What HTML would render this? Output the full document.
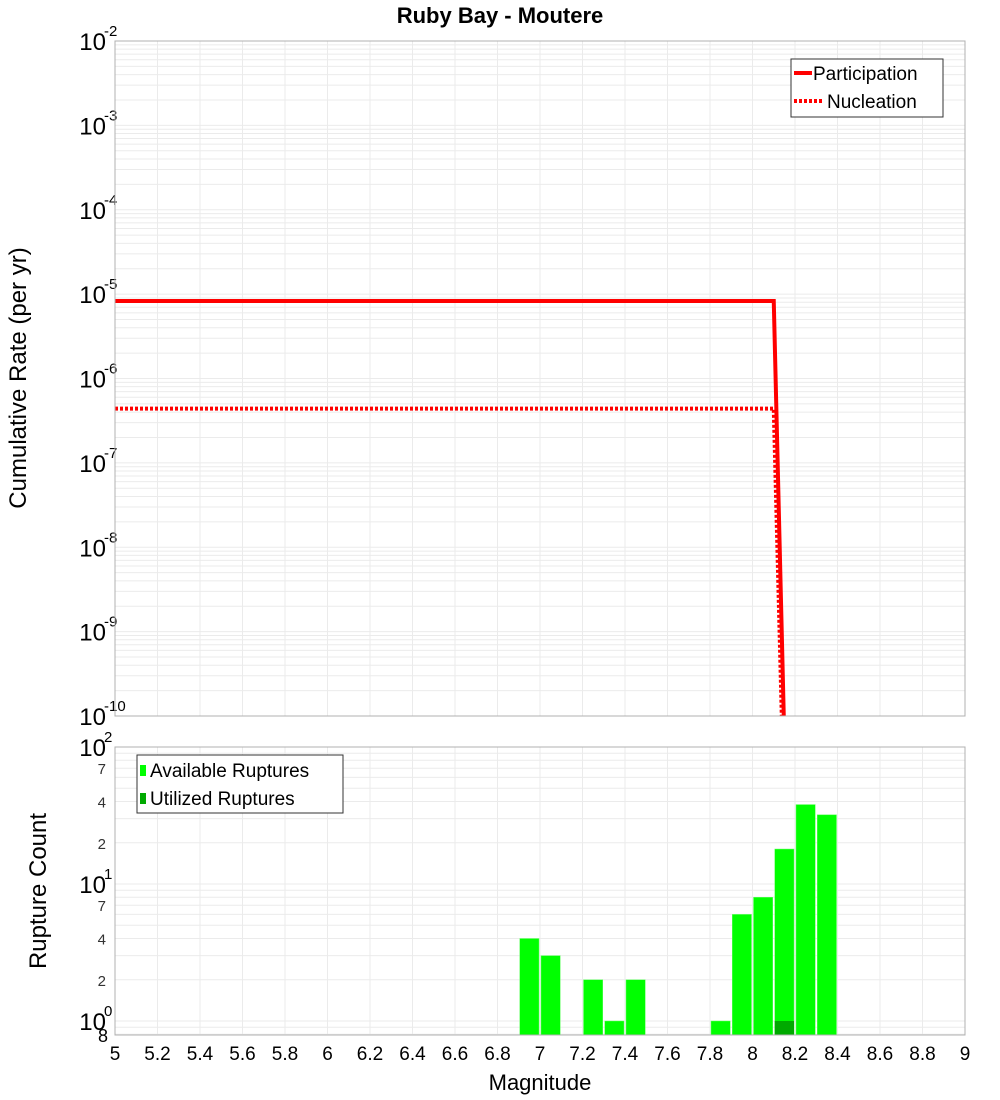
<!DOCTYPE html>
<html><head><meta charset="utf-8"><style>
body{margin:0;background:#fff;}
svg{display:block;font-family:"Liberation Sans","DejaVu Sans",sans-serif;}
</style></head><body>
<svg id="c" width="1000" height="1100" xmlns="http://www.w3.org/2000/svg">
<text x="500" y="23" text-anchor="middle" font-size="22" font-weight="bold">Ruby Bay - Moutere</text>
<text transform="translate(26,378) rotate(-90)" text-anchor="middle" font-size="24">Cumulative Rate (per yr)</text>
<text transform="translate(46,891) rotate(-90)" text-anchor="middle" font-size="24">Rupture Count</text>
<text x="540" y="1090" text-anchor="middle" font-size="22">Magnitude</text>
<g id="gtop"></g><g id="gbot"></g>
</svg>
<script>
const partMags=[5,8.1,8.2];
const partRates=[8.3e-6,8.3e-6,3e-16];
const nuclMags=[5,8.1,8.2];
const nuclRates=[4.4e-7,4.4e-7,1e-16];
const binMags=[6.95,7.05,7.25,7.35,7.45,7.85,7.95,8.05,8.15,8.25,8.35];
const availCounts=[4,3,2,1,2,1,6,8,18,38,32];
const utilMags=[8.15];
const utilCounts=[1];
const xTicks=[5,5.2,5.4,5.6,5.8,6,6.2,6.4,6.6,6.8,7,7.2,7.4,7.6,7.8,8,8.2,8.4,8.6,8.8,9];
const topExps=[-2,-3,-4,-5,-6,-7,-8,-9,-10];
const botExps=[2,1,0];
const botMinor=[7,4,2];

const NS="http://www.w3.org/2000/svg";
const X0=115,X1=965;
const T0=41,T1=716,B0=747,B1=1035;
const xs=m=>X0+(m-5)/4*(X1-X0);
const yt=v=>T0+(-2-Math.log10(v))*(T1-T0)/8;
const BD=137;
const yb=v=>1021-Math.log10(v)*BD;
function el(p,t,a){const e=document.createElementNS(NS,t);for(const k in a)e.setAttribute(k,a[k]);p.appendChild(e);return e;}
const gTop=document.getElementById('gtop'),gBot=document.getElementById('gbot');

let r=el(gTop,'rect',{x:X0,y:T0,width:X1-X0,height:T1-T0,fill:'#fff',stroke:'none'});


for(let e=-10;e<-2;e++)for(let k=1;k<10;k++){const y=yt(k*Math.pow(10,e));
 const l=el(gTop,'line',{x1:X0,x2:X1,y1:y,y2:y,stroke:'#ebebeb','stroke-width':1});
 
 }
xTicks.forEach(m=>{const x=xs(m);const l=el(gTop,'line',{x1:x,x2:x,y1:T0,y2:T1,stroke:'#ebebeb'});
 
 });
topExps.forEach(e=>{const y=yt(Math.pow(10,e));
 const t=el(gTop,'text',{x:106,y:y+9,'text-anchor':'end','font-size':24});
 
 
 t.textContent='10';
 const s=el(gTop,'text',{x:104,y:y-5,'font-size':15});
 
 
 s.textContent=String(e);});
const cp=el(gTop,'clipPath',{id:'ct'});el(cp,'rect',{x:X0,y:T0,width:X1-X0,height:T1-T0});
function path(ms,vs){return ms.map((m,i)=>(i?'L':'M')+xs(m)+','+yt(vs[i])).join(' ');}
let p=el(gTop,'path',{d:path(nuclMags,nuclRates),fill:'none',stroke:'#ff0000','stroke-width':4,'stroke-dasharray':'3,2','clip-path':'url(#ct)'});


p=el(gTop,'path',{d:path(partMags,partRates),fill:'none',stroke:'#ff0000','stroke-width':4,'clip-path':'url(#ct)'});


r=el(gTop,'rect',{x:X0,y:T0,width:X1-X0,height:T1-T0,fill:'none',stroke:'#b0b0b0'});


const lg=el(gTop,'g',{});


el(lg,'rect',{x:791,y:59,width:152,height:58,fill:'#fff',stroke:'#333'});
el(lg,'line',{x1:794,x2:812,y1:73,y2:73,stroke:'#f00','stroke-width':4});
el(lg,'line',{x1:794,x2:822,y1:101,y2:101,stroke:'#f00','stroke-width':4,'stroke-dasharray':'3,2'});
let t=el(lg,'text',{x:813,y:80,'font-size':19});t.textContent='Participation';


t=el(lg,'text',{x:827,y:108,'font-size':19});t.textContent='Nucleation';



for(let e=-1;e<2;e++)for(let k=1;k<10;k++){const v=k*Math.pow(10,e);const y=yb(v);if(y<B0||y>B1)continue;
 const l=el(gBot,'line',{x1:X0,x2:X1,y1:y,y2:y,stroke:'#ebebeb'});
 
 }
xTicks.forEach(m=>{const x=xs(m);const l=el(gBot,'line',{x1:x,x2:x,y1:B0,y2:B1,stroke:'#ebebeb'});
 
 
 const tl=el(gBot,'text',{x:x,y:1060,'text-anchor':'middle','font-size':19});
 
 
 tl.textContent=String(m);});
botExps.forEach(e=>{const y=yb(Math.pow(10,e));
 const t=el(gBot,'text',{x:106,y:y+9,'text-anchor':'end','font-size':24});
 
 
 t.textContent='10';
 const s=el(gBot,'text',{x:104,y:y-5,'font-size':15});
 
 
 s.textContent=String(e);
 if(e>0)botMinor.forEach(k=>{const v=k*Math.pow(10,e-1);const m=el(gBot,'text',{x:106,y:yb(v)+6,'text-anchor':'end','font-size':15,fill:'#333'});
  
  
  m.textContent=String(k);});});
t=el(gBot,'text',{x:108,y:1042,'text-anchor':'end','font-size':18});t.textContent='8';


const bw=(X1-X0)/40;
binMags.forEach((m,i)=>{const y=yb(availCounts[i]);
 const b=el(gBot,'rect',{x:xs(m)-bw/2+1,y:y,width:bw-2,height:B1-y,fill:'#00ff00',stroke:'#66ff66','stroke-width':0.5});
 
 });
utilMags.forEach((m,i)=>{const y=yb(utilCounts[i]);
 const b=el(gBot,'rect',{x:xs(m)-bw/2+1,y:y,width:bw-2,height:B1-y,fill:'#00aa00'});
 
 });
r=el(gBot,'rect',{x:X0,y:B0,width:X1-X0,height:B1-B0,fill:'none',stroke:'#b0b0b0'});


const lb=el(gBot,'g',{});


el(lb,'rect',{x:137,y:755,width:206,height:58,fill:'#fff',stroke:'#333'});
el(lb,'rect',{x:140,y:765,width:6,height:11,fill:'#00ff00'});
el(lb,'rect',{x:140,y:793,width:6,height:11,fill:'#00aa00'});
t=el(lb,'text',{x:150,y:777,'font-size':19});t.textContent='Available Ruptures';


t=el(lb,'text',{x:150,y:805,'font-size':19});t.textContent='Utilized Ruptures';


</script>
</body></html>
